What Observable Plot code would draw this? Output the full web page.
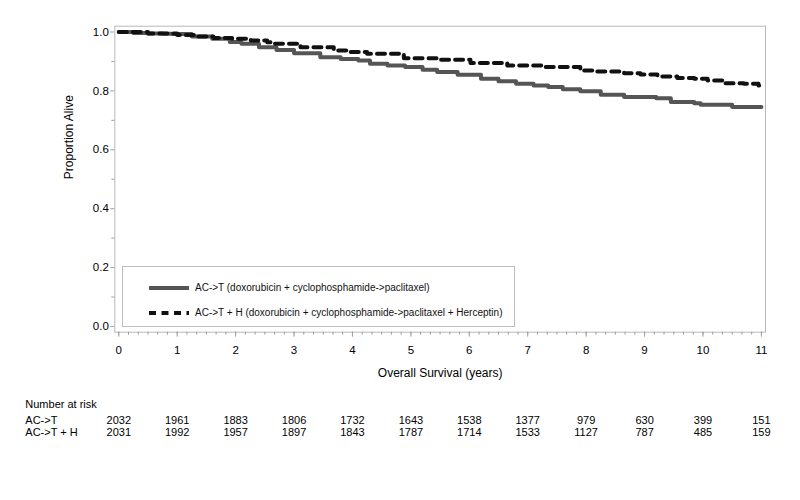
<!DOCTYPE html>
<html>
<head>
<meta charset="utf-8">
<script src="https://cdn.jsdelivr.net/npm/d3@7"></script>
<script src="https://cdn.jsdelivr.net/npm/@observablehq/plot@0.6"></script>
<style>
  body { margin: 0; background: white; font-family: "Liberation Sans", Arial, sans-serif; }
  #wrap { position: relative; width: 800px; height: 500px; }
  #legend { position: absolute; left: 122px; top: 266px; width: 393px; height: 61px;
            border: 1px solid #bdbdbd; box-sizing: border-box; background: white; font-size: 10px; color: #111; }
  .row { position: absolute; left: 26px; height: 12px; display: flex; align-items: center; white-space: nowrap; }
  .row svg { margin-right: 6px; flex: none; }
</style>
</head>
<body>
<div id="wrap">
  <div id="main"></div>
  <div id="risk"></div>
  <div id="legend"></div>
</div>
<script>
// ---- data ----
const seriesNames = ["AC->T (doxorubicin + cyclophosphamide->paclitaxel)",
                     "AC->T + H (doxorubicin + cyclophosphamide->paclitaxel + Herceptin)"];
const riskLabels = ["AC->T", "AC->T + H"];

const timeACT = [0, 0.25, 0.5, 0.75, 0.9, 1.25, 1.6, 1.9, 2.1, 2.4, 2.7, 3.0, 3.45, 3.8, 4.1, 4.3, 4.6, 4.9, 5.2, 5.45, 5.8, 6.2, 6.5, 6.8, 7.1, 7.35, 7.6, 7.9, 8.25, 8.65, 9.2, 9.45, 9.85, 9.96, 10.5, 11.0];
const survACT = [1.0, 0.997, 0.995, 0.994, 0.993, 0.985, 0.977, 0.966, 0.96, 0.948, 0.939, 0.928, 0.914, 0.908, 0.903, 0.892, 0.886, 0.881, 0.872, 0.864, 0.855, 0.841, 0.833, 0.824, 0.818, 0.813, 0.806, 0.799, 0.787, 0.779, 0.775, 0.762, 0.758, 0.753, 0.745, 0.745];

const timeACTH = [0, 0.5, 1.0, 1.34, 1.62, 1.94, 2.26, 2.54, 2.65, 3.11, 3.68, 3.97, 4.25, 4.88, 5.45, 6.02, 6.65, 7.27, 7.9, 8.19, 8.65, 8.93, 9.22, 9.56, 9.85, 10.08, 10.36, 10.7, 10.95, 11.0];
const survACTH = [1.0, 0.995, 0.99, 0.985, 0.98, 0.977, 0.971, 0.965, 0.96, 0.948, 0.937, 0.932, 0.926, 0.911, 0.906, 0.895, 0.886, 0.881, 0.869, 0.866, 0.86, 0.856, 0.849, 0.844, 0.841, 0.835, 0.826, 0.824, 0.818, 0.816];

const xTicks = [0, 1, 2, 3, 4, 5, 6, 7, 8, 9, 10, 11];
const yTicks = [0.0, 0.2, 0.4, 0.6, 0.8, 1.0];
const yMinor = [0.1, 0.3, 0.5, 0.7, 0.9];
const riskACT  = [2032, 1961, 1883, 1806, 1732, 1643, 1538, 1377, 979, 630, 399, 151];
const riskACTH = [2031, 1992, 1957, 1897, 1843, 1787, 1714, 1533, 1127, 787, 485, 159];

// ---- derived tables ----
const act  = timeACT.map((t, i) => ({t, s: survACT[i]}));
const acth = timeACTH.map((t, i) => ({t, s: survACTH[i]}));
const xMinor = d3.range(0, 11 * 6 + 1).map(i => i / 6);
const riskRows = xTicks.map((t, i) => ({t, row: riskLabels[0], n: riskACT[i]}))
  .concat(xTicks.map((t, i) => ({t, row: riskLabels[1], n: riskACTH[i]})));

const font = '"Liberation Sans", Arial, sans-serif';
const W = 800, ML = 114.3, MR = 35;
const xDomain = [-0.068, 11.07];

const main = Plot.plot({
  width: W, height: 390,
  marginLeft: ML, marginRight: MR, marginTop: 25.7, marginBottom: 58.3,
  style: {fontFamily: font, fontSize: "11.5px", background: "white", color: "black"},
  x: {domain: xDomain},
  y: {domain: [-0.0195, 1.0197]},
  marks: [
    Plot.frame({stroke: "#b8b8b8"}),
    Plot.axisX({ticks: xMinor, tickSize: 3, text: null, stroke: "#a0a0a0", label: null}),
    Plot.axisX({ticks: xTicks, tickSize: 5, tickPadding: 9, stroke: "#a0a0a0", fill: "black", label: null, tickFormat: d3.format("d")}),
    Plot.axisY({ticks: yMinor, tickSize: 3, text: null, stroke: "#a0a0a0", label: null}),
    Plot.axisY({ticks: yTicks, tickSize: 4, tickPadding: 2, stroke: "#a0a0a0", fill: "black", label: null, tickFormat: d3.format(".1f")}),
    Plot.text(["Proportion Alive"], {frameAnchor: "left", dx: -46, rotate: -90, fontSize: 12, fill: "black"}),
    Plot.text(["Overall Survival (years)"], {frameAnchor: "bottom", dy: 45, fontSize: 12, fill: "black"}),
    Plot.line(act, {x: "t", y: "s", curve: "step-after", stroke: "#555555", strokeWidth: 4}),
    Plot.line(acth, {x: "t", y: "s", curve: "step-after", stroke: "#111111", strokeWidth: 4, strokeDasharray: "8,6"})
  ]
});
document.getElementById("main").appendChild(main);

const risk = Plot.plot({
  width: W, height: 60,
  marginLeft: ML, marginRight: MR, marginTop: 0, marginBottom: 0,
  style: {fontFamily: font, fontSize: "11px", background: "white", color: "black"},
  x: {domain: xDomain, axis: null},
  y: {type: "point", domain: riskLabels, range: [29.3, 42.3], padding: 0, axis: null},
  marks: [
    Plot.text(["Number at risk"], {frameAnchor: "top-left", dx: -89.5, dy: 14.3, lineAnchor: "middle", textAnchor: "start", fill: "black"}),
    Plot.text(riskLabels, {y: d => d, frameAnchor: "left", dx: -89.5, textAnchor: "start", fill: "black"}),
    Plot.text(riskRows, {x: "t", y: "row", text: d => String(d.n), fill: "black"})
  ]
});
document.getElementById("risk").appendChild(risk);

// legend
const leg = document.getElementById("legend");
const styles = [{stroke: "#555555", dash: null}, {stroke: "#111111", dash: "7,5.5"}];
seriesNames.forEach((name, i) => {
  const row = document.createElement("div");
  row.className = "row";
  row.style.top = (i === 0 ? 14.5 : 39.5) + "px";
  const s = d3.create("svg").attr("width", 40).attr("height", 12);
  s.append("line").attr("x1", 0).attr("x2", 40).attr("y1", 6).attr("y2", 6)
    .attr("stroke", styles[i].stroke).attr("stroke-width", 4)
    .attr("stroke-dasharray", styles[i].dash);
  row.appendChild(s.node());
  const t = document.createElement("span");
  t.textContent = name;
  row.appendChild(t);
  leg.appendChild(row);
});
</script>
</body>
</html>
